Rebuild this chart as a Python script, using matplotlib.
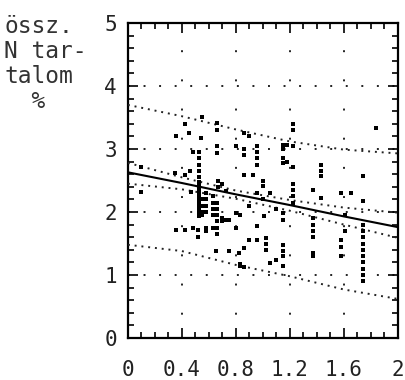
import numpy as np
import matplotlib
matplotlib.use('Agg')
import matplotlib.pyplot as plt
from matplotlib.ticker import MultipleLocator, FixedFormatter, FixedLocator

plt.rcParams['font.family'] = ['DejaVu Sans Mono']

# measured points (x, N %), vertical stacks listed point by point
pts_x = [0.10, 0.10, 0.35, 0.36, 0.36, 0.42, 0.42, 0.42, 0.45, 0.46, 0.47, 0.48, 0.48,
         0.53, 0.53, 0.53, 0.53, 0.53, 0.53, 0.53, 0.53, 0.53, 0.53, 0.53, 0.53, 0.53,
         0.53, 0.53, 0.52, 0.52, 0.54, 0.55, 0.55, 0.55, 0.55, 0.55,
         0.58, 0.58, 0.58, 0.58, 0.58, 0.58, 0.63, 0.63, 0.63, 0.63, 0.63,
         0.66, 0.66, 0.66, 0.66, 0.66, 0.66, 0.66, 0.66, 0.66, 0.66, 0.67, 0.67,
         0.65, 0.70, 0.70, 0.70, 0.73, 0.73, 0.75, 0.75,
         0.80, 0.80, 0.80, 0.82, 0.83, 0.83, 0.83,
         0.86, 0.86, 0.86, 0.86, 0.86, 0.86, 0.90, 0.90, 0.90, 0.93,
         0.96, 0.96, 0.96, 0.96, 0.96, 0.96, 0.96,
         1.00, 1.00, 1.00, 1.01, 1.02, 1.02, 1.02, 1.05, 1.05, 1.10, 1.10,
         1.15, 1.15, 1.15, 1.15, 1.15, 1.15, 1.15, 1.15, 1.15, 1.15, 1.18, 1.18,
         1.22, 1.22, 1.22, 1.22, 1.22, 1.22, 1.22, 1.22,
         1.37, 1.37, 1.37, 1.37, 1.37, 1.37, 1.37,
         1.43, 1.43, 1.43, 1.43,
         1.58, 1.58, 1.58, 1.58, 1.61, 1.61, 1.65,
         1.74, 1.74, 1.74, 1.74, 1.74, 1.74, 1.74, 1.74, 1.74, 1.74, 1.74, 1.74,
         1.84]
pts_y = [2.72, 2.31, 2.62, 1.72, 3.20, 3.40, 2.58, 1.72, 3.25, 2.65, 2.32, 2.96, 1.75,
         2.95, 2.85, 2.75, 2.65, 2.55, 2.48, 2.42, 2.36, 2.30, 2.24, 2.18, 2.12, 2.06,
         2.00, 1.94, 1.72, 1.60, 3.17, 3.50, 2.20, 2.10, 2.00, 1.95,
         2.30, 2.20, 2.10, 2.00, 1.75, 1.70, 2.25, 2.15, 2.05, 1.95, 1.75,
         3.42, 3.30, 3.05, 2.93, 2.15, 2.05, 1.95, 1.85, 1.75, 1.65, 2.50, 2.40,
         1.38, 2.45, 1.90, 1.85, 2.33, 1.88, 1.88, 1.38,
         3.04, 1.98, 1.75, 1.35, 1.96, 1.18, 1.14,
         3.25, 3.00, 2.90, 2.59, 1.43, 1.12, 3.20, 2.09, 1.56, 2.59,
         3.05, 2.95, 2.85, 2.75, 2.30, 1.77, 1.56,
         2.50, 2.42, 2.20, 1.93, 1.58, 1.50, 1.40, 2.30, 1.19, 2.05, 1.24,
         3.07, 3.00, 2.85, 2.78, 1.98, 1.88, 1.48, 1.38, 1.30, 1.15, 3.07, 2.80,
         3.40, 3.30, 3.04, 2.72, 2.45, 2.35, 2.25, 2.15,
         2.35, 1.90, 1.80, 1.70, 1.60, 1.35, 1.30,
         2.75, 2.65, 2.57, 2.22,
         2.30, 1.55, 1.45, 1.30, 1.70, 1.95, 2.30,
         2.57, 2.17, 1.80, 1.70, 1.60, 1.50, 1.40, 1.30, 1.20, 1.10, 1.00, 0.90,
         3.33]

# regression line and bands read at these x positions
band_x = [0.0, 0.4, 0.8, 1.2, 1.6, 2.0]
reg_line = [2.63, 2.46, 2.28, 2.11, 1.93, 1.76]
conf_hi = [2.78, 2.55, 2.34, 2.19, 2.07, 1.99]
conf_lo = [2.45, 2.36, 2.21, 2.02, 1.80, 1.59]
pred_hi = [3.70, 3.52, 3.31, 3.12, 2.99, 2.93]
pred_lo = [1.48, 1.38, 1.16, 0.98, 0.77, 0.62]

x_ticks = [0, 0.4, 0.8, 1.2, 1.6, 2]
x_labels = ['0', '0.4', '0.8', '1.2', '1.6', '2']
y_ticks = [0, 1, 2, 3, 4, 5]
ylabel_text = 'össz.\nN tar-\ntalom\n  %'

fig = plt.figure(figsize=(4.06, 3.80), dpi=100)
ax = fig.add_axes([0.315, 0.1105, 0.665, 0.829])

ax.set_xlim(0, 2)
ax.set_ylim(0, 5)

# dotted grid
for yv in [1, 2, 3, 4]:
    ax.axhline(yv, color='#222222', lw=1.4, ls=(0, (1, 7)), zorder=1)
for xv in [0.4, 0.8, 1.2, 1.6]:
    ax.axvline(xv, color='#222222', lw=1.4, ls=(3, (1, 14)), zorder=1)

ax.plot(band_x, reg_line, color='black', lw=1.5, zorder=3)
for band in [conf_hi, conf_lo, pred_hi, pred_lo]:
    ax.plot(band_x, band, color='#222222', lw=1.4, ls=(0, (1, 2.5)), zorder=3)

ax.plot(pts_x, pts_y, 's', color='black', ms=3.1, mew=0, zorder=4)

ax.xaxis.set_major_locator(FixedLocator(x_ticks))
ax.xaxis.set_major_formatter(FixedFormatter(x_labels))
ax.xaxis.set_minor_locator(MultipleLocator(0.1))
ax.yaxis.set_major_locator(FixedLocator(y_ticks))
ax.yaxis.set_minor_locator(MultipleLocator(0.2))

ax.tick_params(which='both', direction='in', top=True, right=True,
               width=1.2, color='black', labelsize=15, labelcolor='#222222')
ax.tick_params(which='major', length=7)
ax.tick_params(which='minor', length=4)
ax.tick_params(axis='x', which='major', pad=16)
ax.tick_params(axis='y', which='major', pad=8)

for sp in ax.spines.values():
    sp.set_linewidth(1.6)

fig.text(0.01, 0.96, ylabel_text, fontsize=16.5, color='#333333',
         va='top', ha='left', linespacing=1.1)

fig.savefig('out.png', dpi=100)
